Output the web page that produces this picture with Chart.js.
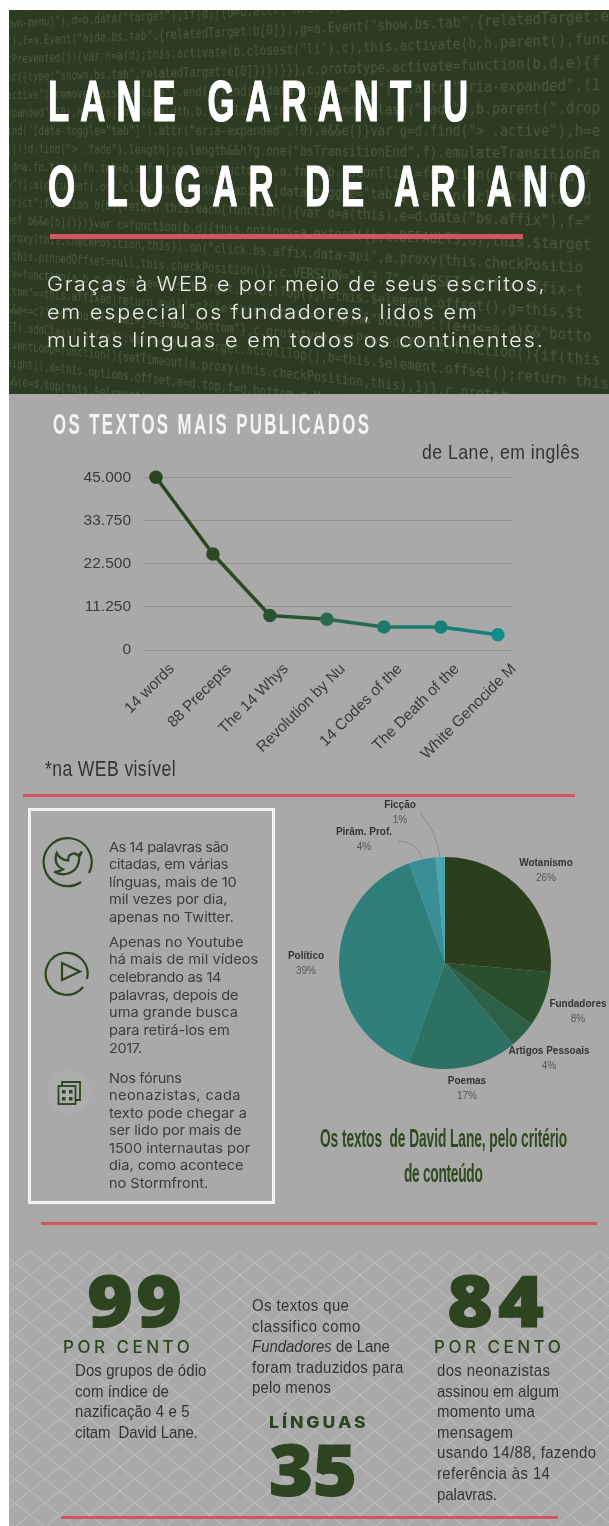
<!DOCTYPE html>
<html lang="pt">
<head>
<meta charset="utf-8">
<title>Lane garantiu o lugar de Ariano</title>
<script src="https://cdn.jsdelivr.net/npm/chart.js@4/dist/chart.umd.min.js"></script>
<style>
html,body{margin:0;padding:0;background:#fff;}
#page{position:relative;width:609px;height:1526px;overflow:hidden;background:#fff;}
#hero{position:absolute;left:9px;top:10px;width:600px;height:384px;background:#2e3b23;overflow:hidden;}
#code{position:absolute;right:0;top:-52.5px;width:867px;font:16px/23px "DejaVu Sans Mono",monospace;color:#4a593b;white-space:nowrap;
  transform-origin:867px 172.5px;transform:perspective(1250px) rotateY(-25deg);filter:blur(.7px);}
#code div{height:23px;}
#grey{position:absolute;left:9px;top:394px;width:600px;height:1132px;background:#a9a9a9;}
#lattice{position:absolute;left:9px;top:1251px;}
.rule{position:absolute;background:#d2565f;}
.t{position:absolute;white-space:nowrap;line-height:1;transform-origin:0 50%;}
.lbl{position:absolute;width:120px;text-align:center;font:bold 10px "Liberation Sans",Arial,sans-serif;color:#333;}
.lbl span{display:block;font-weight:normal;color:#555;margin-top:4px;}
canvas{position:absolute;}
svg{position:absolute;overflow:visible;}
#box{position:absolute;left:28px;top:808px;width:241px;height:390px;border:3px solid #f1f1f1;}
</style>
</head>
<body>
<div id="page">
  <div id="hero"><div id="code"></div></div>
  <div id="grey"></div>
  <svg id="lattice" width="600" height="275">
    <defs><pattern id="net" x="21" y="0" width="30" height="24" patternUnits="userSpaceOnUse">
      <path d="M0 0L15 12L30 0M0 24L15 12L30 24" fill="none" stroke="#b9b9b9" stroke-width="1.2"/>
    </pattern></defs>
    <rect width="600" height="275" fill="url(#net)"/>
  </svg>
  <div class="rule" style="left:50px;top:234px;width:473px;height:5px"></div>
  <div class="rule" style="left:23px;top:794px;width:552px;height:3px"></div>
  <div class="rule" style="left:41px;top:1222px;width:556px;height:3px"></div>
  <div class="rule" style="left:61px;top:1516px;width:497px;height:3px"></div>
  <div id="box"></div>

  <!-- twitter, play and forum icons -->
  <svg style="left:0;top:0" width="609" height="1526" fill="none" stroke="#2d4420" stroke-width="2.2">
    <path d="M81 882A24 24 0 1 1 89 873"/>
    <path d="M76 885L71 886" />
    <path transform="translate(53 848) scale(1.25)" stroke-width="1.8" d="M23 3a10.9 10.9 0 0 1-3 3 4.48 4.48 0 0 0-7.86 3v1A10.66 10.66 0 0 1 3 4s-4 9 5 13a11.64 11.64 0 0 1-7 2c9 5 20 0 20-11.5a4.5 4.5 0 0 0-.08-.83A7.72 7.72 0 0 0 23 3z"/>
    <path d="M83 987A21 21 0 1 1 87 979"/>
    <path d="M62 963L80 971.500L62 980Z"/>
    <circle cx="69" cy="1092" r="22" fill="#adadad" stroke="none"/>
    <rect x="58.500" y="1086" width="17" height="18" stroke-width="1.800"/>
    <path d="M62 1086V1082H80V1100H75.500" stroke-width="1.800"/>
    <g fill="#2d4420" stroke="none">
      <rect x="62" y="1090" width="3.500" height="3.500"/><rect x="69" y="1090" width="3.500" height="3.500"/>
      <rect x="62" y="1097" width="3.500" height="3.500"/><rect x="69" y="1097" width="3.500" height="3.500"/>
    </g>
    <!-- pie leader lines -->
    <path stroke="#8a8a8a" stroke-width="1" d="M420 813Q436 830 440 857"/>
    <path stroke="#8a8a8a" stroke-width="1" d="M398 841Q418 842 422 858"/>
  </svg>

  <canvas id="lineChart" width="480" height="335" style="left:60px;top:455px;width:480px;height:335px"></canvas>
  <canvas id="pieChart" width="240" height="240" style="left:325px;top:843px;width:240px;height:240px"></canvas>
</div>

<script>
// line chart
const textTitles = ['14 words','88 Precepts','The 14 Whys','Revolution by Nu','14 Codes of the','The Death of the','White Genocide M'];
const textCounts = [45000,25000,9000,8000,6000,6000,4000];
const countTicks = [0,11250,22500,33750,45000];
const pointColors = ['#2a451e','#2b4a23','#27532f','#266a50','#1d7a6c','#167f78','#0f8f8b'];

// pie chart
const genreNames = ['Wotanismo','Fundadores','Artigos Pessoais','Poemas','Político','Pirâm. Prof.','Ficção'];
const genreShares = [26.4,8.4,4.1,16.6,39,4.1,1.4];
const genrePercents = ['26%','8%','4%','17%','39%','4%','1%'];
const genreColors = ['#2b3f1c','#2a4f2d','#2d6047','#2c7163','#2e7f79','#3a8f97','#48a5b4'];
const genreLabelAt = [[546,858],[578,999],[549,1046],[467,1076],[306,951],[364,827],[400,800]];

const codeRows = [
  'b)()))var c=function(b){this.element=a(b)},c.VERSION="3.3.7",d=b.attr("data-"),d=b&&d.replace(',
  'down-menu)"),d=b.data("target");if(d||(d=b.attr("href"),d=d&&d.replace(/.*(?=#[^\\s]*$)/,""))',
  'a"),f=a.Event("hide.bs.tab",{relatedTarget:b[0]}),g=a.Event("show.bs.tab",{relatedTarget:e',
  'itPrevented()){var h=a(d);this.activate(b.closest("li"),c),this.activate(h,h.parent(),func',
  'ger({type:"shown.bs.tab",relatedTarget:e[0]})})}}},c.prototype.activate=function(b,d,e){f',
  '.active").removeClass("active").end().find(\'[data-toggle="tab"]\').attr("aria-expanded",!1',
  'expanded",!0),h?(b[0].offsetWidth,b.addClass("in")):b.removeClass("fade"),b.parent(".drop',
  'find(\'[data-toggle="tab"]\').attr("aria-expanded",!0),e&&e()}var g=d.find("> .active"),h=e',
  ')||!!d.find("> .fade").length);g.length&&h?g.one("bsTransitionEnd",f).emulateTransitionEn',
  'r d=a.fn.tab;a.fn.tab=b,a.fn.tab.Constructor=c,a.fn.tab.noConflict=function(){return a.f',
  'ow"));a(document).on("click.bs.tab.data-api",\'[data-toggle="tab"]\',e).on("click.bs.tab.d',
  'strict";function b(b){return this.each(function(){var d=a(this),e=d.data("bs.affix"),f="',
  'peof b&&e[b]()})}var c=function(b,d){this.options=a.extend({},c.DEFAULTS,d),this.$target',
  '.proxy(this.checkPosition,this)).on("click.bs.affix.data-api",a.proxy(this.checkPositio',
  'l,this.pinnedOffset=null,this.checkPosition()};c.VERSION="3.3.7",c.RESET="affix affix-t',
  'ate=function(a,b,c,d){var e=this.$target.scrollTop(),f=this.$element.offset(),g=this.$t',
  'ottom"==this.affixed)return null!=c?!(e+this.unpin<=f.top)&&"bottom":!(e+g<=a-d)&&"botto',
  'c&&e<=c?"top":null!=d&&i+j>=a-d&&"bottom"},c.prototype.getPinnedOffset=function(){if(this',
  'SET).addClass("affix");var a=this.$target.scrollTop(),b=this.$element.offset();return this',
  'hEventLoop=function(){setTimeout(a.proxy(this.checkPosition,this),1)},c.prototype.checkPos',
  'height(),d=this.options.offset,e=d.top,f=d.bottom,g=Math.max(a(document).height(),a(docume',
  'e&&(e=d.top(this.$element)),"function"==typeof f&&(f=d.bottom(this.$element));var h=this',
  '.css("top","");var b=this.options.offset,c=this.$element.height()'
];
document.getElementById('code').innerHTML = codeRows.map(r => '<div>'+r.replace(/&/g,'&amp;').replace(/</g,'&lt;')+'</div>').join('');

// puts one text line, letter spacing fitted so it spans w px after the x scale s
function put(html, x, y, w, css, s){
  s = s || 1;
  const el = document.createElement('div');
  el.className = 't';
  el.style.cssText = 'left:'+x+'px;top:'+y+'px;'+css;
  el.innerHTML = html;
  document.getElementById('page').appendChild(el);
  const nat = el.offsetWidth;
  const n = el.textContent.length - 1;
  el.style.letterSpacing = ((w/s - nat)/n).toFixed(3)+'px';
  el.style.transform = 'translateY(-50%) scaleX('+s+')';
}

const narrow = '"Liberation Sans",Arial,sans-serif';
const titleCss = 'font:bold 58px '+narrow+';color:#fff;-webkit-text-stroke:1.2px #fff;';
put('LANE GARANTIU',48,100,420,titleCss,.6);
put('O LUGAR DE ARIANO',48,185,538,titleCss,.6);

const leadCss = 'font:300 20px Inter,"Open Sans",sans-serif;color:#eeeeea;';
[['Graças à WEB e por meio de seus escritos,',284,498],['em especial os fundadores, lidos em',312,430],['muitas línguas e em todos os continentes.',340,496]]
  .forEach(r => put(r[0],47,r[1],r[2],leadCss,1.08));

put('OS TEXTOS MAIS PUBLICADOS',53,424,316,'font:bold 29px '+narrow+';color:#f4f4f4;',.58);
put('de Lane, em inglês',422,452,157,'font:21px '+narrow+';color:#333;',.84);
put('*na WEB visível',45,769,131,'font:22px '+narrow+';color:#333;',.8);

const bodyCss = 'font:13.5px Inter,"Open Sans",sans-serif;color:#3c3c3c;';
[['As 14 palavras são',847,120],['citadas, em várias',864,120],['línguas, mais de 10',882,128],['mil vezes por dia,',899,118],['apenas no Twitter.',917,125],
 ['Apenas no Youtube',942,135],['há mais de mil vídeos',959,149],['celebrando as 14',977,113],['palavras, depois de',995,130],['uma grande busca',1012,129],['para retirá-los em',1030,121],['2017.',1048,33],
 ['Nos fóruns',1078,73],['neonazistas, cada',1095,132],['texto pode chegar a',1113,138],['ser lido por mais de',1130,133],['1500 internautas por',1148,141],['dia, como acontece',1165,134],['no Stormfront.',1183,99]]
  .forEach(r => put(r[0],109,r[1],r[2],bodyCss,1.08));

const capCss = 'font:bold 25px '+narrow+';color:#2f4a1f;';
put('Os textos&nbsp; de David Lane, pelo critério',320,1138,247,capCss,.55);
put('de conteúdo',404,1173,79,capCss,.55);

const bigCss = 'font:800 70px "Open Sans",Inter,sans-serif;color:#2d4420;-webkit-text-stroke:1px #2d4420;';
put('99',87,1300,95,bigCss,1.12);
put('84',447,1300,97,bigCss,1.12);
put('35',269,1469,88,bigCss,1.08);
const unitCss = 'font:500 17px Inter,"Open Sans",sans-serif;color:#2d4420;';
put('POR CENTO',63,1347,127,unitCss);
put('POR CENTO',434,1347,127,unitCss);
put('LÍNGUAS',269,1422,97,'font:800 16px Inter,"Open Sans",sans-serif;color:#2d4420;',1.1);

const noteCss = 'font:17px '+narrow+';color:#333;';
[['Dos grupos de ódio',75,1371,131],['com índice de',75,1392,94],['nazificação 4 e 5',75,1412,115],['citam&nbsp; David Lane.',75,1433,123],
 ['Os textos que',252,1306,97],['classifico como',252,1327,108],['<i>Fundadores</i> de Lane',252,1347,138],['foram traduzidos para',252,1368,151],['pelo menos',252,1388,79],
 ['dos neonazistas',437,1371,113],['assinou em algum',437,1392,122],['momento uma',437,1412,98],['mensagem',437,1433,76],['usando 14/88, fazendo',437,1453,159],['referência às 14',437,1474,113],['palavras.',437,1495,60]]
  .forEach(r => put(r[0],r[1],r[2],r[3],noteCss,.88));

genreNames.forEach((name,i) => {
  const el = document.createElement('div');
  el.className = 'lbl';
  el.style.left = (genreLabelAt[i][0]-60)+'px';
  el.style.top = (genreLabelAt[i][1]-1)+'px';
  el.innerHTML = name+'<span>'+genrePercents[i]+'</span>';
  document.getElementById('page').appendChild(el);
});

Chart.defaults.font.family = '"Liberation Sans", Arial, sans-serif';
Chart.defaults.animation = false;

new Chart(document.getElementById('lineChart'), {
  type: 'line',
  data: { datasets: [{
    data: textCounts.map((v,i) => ({ x: i, y: v })),
    borderWidth: 3.5,
    tension: 0,
    clip: false,
    pointRadius: 5,
    pointBackgroundColor: pointColors,
    pointBorderColor: pointColors,
    segment: { borderColor: c => pointColors[c.p0DataIndex] }
  }]},
  options: {
    responsive: false,
    layout: { padding: { top: 12, right: 29 } },
    plugins: { legend: { display: false }, tooltip: { enabled: false } },
    scales: {
      x: {
        type: 'linear', min: -0.21, max: 6.23,
        grid: { display: false }, border: { display: false },
        afterBuildTicks: s => { s.ticks = textTitles.map((t,i) => ({ value: i })); },
        afterFit: s => { s.height = 140; },
        ticks: {
          autoSkip: false, minRotation: 45, maxRotation: 45, padding: 2, labelOffset: 16,
          color: '#3a3a3a', font: { size: 15.5 },
          callback: v => textTitles[v]
        }
      },
      y: {
        min: 0, max: 45000,
        grid: { color: '#8f8f8f', lineWidth: 1, drawTicks: false }, border: { display: false },
        afterBuildTicks: s => { s.ticks = countTicks.map(v => ({ value: v })); },
        afterFit: s => { s.width = 84; },
        ticks: {
          padding: 13, color: '#3a3a3a', font: { size: 15.5 },
          callback: v => v.toLocaleString('de-DE')
        }
      }
    }
  }
});

new Chart(document.getElementById('pieChart'), {
  type: 'pie',
  data: { labels: genreNames, datasets: [{ data: genreShares, backgroundColor: genreColors, borderWidth: 0 }] },
  options: {
    responsive: false,
    layout: { padding: 14 },
    plugins: { legend: { display: false }, tooltip: { enabled: false } }
  }
});
</script>
</body>
</html>
